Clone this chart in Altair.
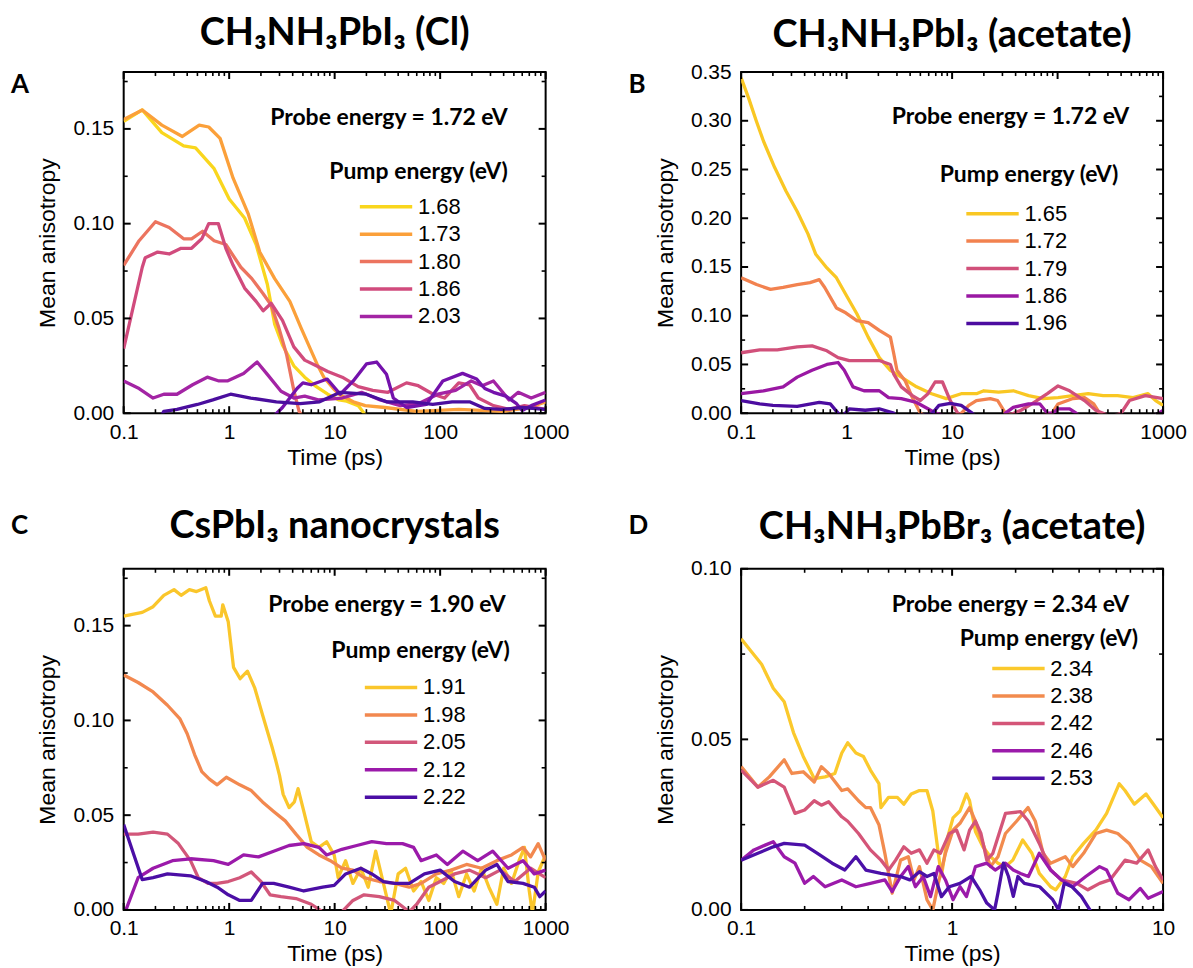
import altair as alt
import pandas as pd

# ---------------------------------------------------------------- data
# Panel A: CH3NH3PbI3 (Cl), probe 1.72 eV  -- (time ps, mean anisotropy)
A_NAMES = ["1.68", "1.73", "1.80", "1.86", "2.03", "extra-1", "extra-2"]
A_LEGEND = ["1.68", "1.73", "1.80", "1.86", "2.03"]
A_COLORS = ["#F9D61D", "#FBA03A", "#EC745F", "#D14B7D", "#A324A4", "#7412AC", "#4A0E9E"]
A_168 = [(0.1, 0.154), (0.15, 0.160), (0.23, 0.148), (0.37, 0.141), (0.48, 0.140), (0.72, 0.129),
         (1.0, 0.113), (1.4, 0.103), (1.8, 0.089), (2.3, 0.068), (2.7, 0.047), (3.2, 0.036),
         (4.1, 0.025), (5.2, 0.019), (6.7, 0.014), (8.6, 0.010), (11, 0.007), (13, 0.0063),
         (16.7, 0.004), (19, 0.0), (22, -0.004), (40, -0.006), (100, -0.005), (300, -0.004), (1000, -0.003)]
A_173 = [(0.1, 0.155), (0.15, 0.160), (0.23, 0.152), (0.36, 0.146), (0.52, 0.152), (0.64, 0.151),
         (0.82, 0.145), (1.09, 0.124), (1.52, 0.105), (1.95, 0.085), (2.7, 0.071), (3.76, 0.059),
         (4.8, 0.045), (6.2, 0.031), (6.8, 0.026), (7.9, 0.019), (9.7, 0.013), (11, 0.010), (15, 0.006),
         (19.5, 0.004), (30, 0.003), (60, 0.001), (150, 0.002), (400, 0.001), (700, 0.003), (1000, 0.006)]
A_180 = [(0.1, 0.078), (0.14, 0.091), (0.2, 0.101), (0.27, 0.098), (0.37, 0.092), (0.44, 0.092),
         (0.56, 0.096), (0.72, 0.091), (0.93, 0.089), (1.29, 0.077), (1.64, 0.071), (2.1, 0.063),
         (2.5, 0.057), (2.96, 0.045), (3.5, 0.031), (4.1, 0.012), (4.6, 0.001), (5.5, -0.006),
         (10, -0.006), (100, -0.006), (1000, -0.006)]
A_186 = [(0.1, 0.034), (0.15, 0.077), (0.16, 0.082), (0.21, 0.085), (0.27, 0.084), (0.35, 0.087),
         (0.44, 0.087), (0.55, 0.092), (0.64, 0.100), (0.79, 0.100), (0.93, 0.087), (1.09, 0.078),
         (1.4, 0.066), (1.8, 0.059), (2.1, 0.054), (2.5, 0.058), (3.2, 0.049), (4.1, 0.035),
         (5.2, 0.028), (6.7, 0.025), (8.6, 0.022), (11.8, 0.019), (16.7, 0.014), (23, 0.012),
         (32, 0.011), (48, 0.016), (62, 0.0145), (86, 0.010), (110, 0.008), (150, 0.016),
         (190, 0.015), (230, 0.008), (320, 0.004), (450, 0.002), (630, 0.004), (1000, 0.002)]
A_203 = [(0.1, 0.017), (0.14, 0.013), (0.19, 0.008), (0.24, 0.010), (0.32, 0.010), (0.45, 0.015),
         (0.62, 0.019), (0.8, 0.017), (0.96, 0.017), (1.37, 0.021), (1.84, 0.027), (2.3, 0.0205),
         (3.1, 0.0116), (4.1, 0.008), (5.2, 0.009), (7, 0.007), (11.8, 0.008), (18, 0.011),
         (27, 0.007), (42, 0.004), (62, 0.005), (95, 0.010), (140, 0.012), (197, 0.017),
         (250, 0.0145), (320, 0.017), (450, 0.007), (550, 0.011), (730, 0.008), (1000, 0.011)]
A_X1 = [(2.6, -0.002), (3.2, 0.003), (4.4, 0.013), (5.0, 0.016), (6.0, 0.015), (8.5, 0.018),
        (11.3, 0.010), (15, 0.017), (20, 0.026), (25, 0.027), (31, 0.0205), (36, 0.008),
        (48, 0.003), (74, 0.0046), (106, 0.017), (163, 0.021), (222, 0.018), (265, 0.013),
        (320, 0.011), (420, 0.009), (530, 0.005), (600, 0.0014), (730, 0.004), (1000, 0.007)]
A_X2 = [(0.22, -0.003), (0.24, 0.001), (0.32, 0.002), (0.5, 0.0046), (0.7, 0.007), (1.03, 0.010),
        (1.6, 0.008), (2.8, 0.006), (4.7, 0.005), (7.2, 0.006), (11.3, 0.011), (20, 0.010),
        (31, 0.006), (55, 0.006), (85, 0.0046), (130, 0.006), (190, 0.006), (265, 0.0025),
        (380, 0.002), (600, 0.003), (1000, 0.002)]

# Panel B: CH3NH3PbI3 (acetate), probe 1.72 eV
B_NAMES = ["1.65", "1.72", "1.79", "1.86", "1.96"]
B_COLORS = ["#F9C723", "#F2824F", "#D1507A", "#9A18A3", "#4C0CA0"]
B_165 = [(0.1, 0.344), (0.118, 0.323), (0.139, 0.300), (0.163, 0.279), (0.208, 0.252), (0.266, 0.228),
         (0.34, 0.207), (0.43, 0.184), (0.51, 0.163), (0.65, 0.149), (0.8, 0.139), (0.98, 0.122),
         (1.25, 0.102), (1.6, 0.078), (2.04, 0.057), (2.6, 0.044), (3.3, 0.037), (4.6, 0.027),
         (6.4, 0.020), (8.8, 0.015), (12.2, 0.020), (17, 0.020), (20, 0.023), (27.6, 0.0215),
         (38, 0.023), (53, 0.018), (73, 0.015), (101, 0.016), (140, 0.018), (195, 0.020),
         (270, 0.018), (370, 0.018), (520, 0.016), (720, 0.020), (850, 0.013), (1000, 0.008)]
B_172 = [(0.1, 0.139), (0.14, 0.132), (0.19, 0.127), (0.25, 0.129), (0.34, 0.132), (0.45, 0.134),
         (0.55, 0.137), (0.62, 0.129), (0.8, 0.108), (0.98, 0.103), (1.25, 0.095), (1.6, 0.093),
         (2.04, 0.085), (2.6, 0.078), (2.8, 0.061), (3.0, 0.044), (3.6, 0.033), (4.2, 0.016),
         (5.0, 0.0), (6, -0.005), (12, -0.001), (14.4, 0.008), (17, 0.013), (23, 0.015), (27, 0.013),
         (32, 0.0), (50, -0.005), (87, -0.001), (101, 0.0095), (140, 0.015), (180, 0.016),
         (220, 0.0095), (250, 0.0), (300, -0.006), (1000, -0.006)]
B_179 = [(0.1, 0.062), (0.15, 0.065), (0.22, 0.065), (0.34, 0.068), (0.47, 0.069), (0.65, 0.064),
         (0.83, 0.057), (1.06, 0.054), (1.46, 0.054), (2.04, 0.054), (2.6, 0.050), (2.8, 0.040),
         (3.3, 0.027), (4.2, 0.018), (5.0, 0.013), (5.9, 0.020), (6.9, 0.032), (8.1, 0.032),
         (9.6, 0.013), (11.3, 0.0), (14, -0.005), (30, -0.005), (45, 0.003), (57, 0.0095),
         (80, 0.020), (101, 0.028), (130, 0.023), (180, 0.013), (230, 0.003), (270, 0.0),
         (320, -0.004), (400, 0.0), (480, 0.013), (680, 0.018), (1000, 0.015)]
B_186 = [(0.1, 0.020), (0.163, 0.023), (0.25, 0.027), (0.34, 0.037), (0.47, 0.044), (0.65, 0.050),
         (0.83, 0.052), (0.95, 0.044), (1.15, 0.027), (1.46, 0.023), (2.04, 0.023), (2.5, 0.016),
         (3.3, 0.015), (4.6, 0.011), (5.9, 0.0045), (7, 0.0), (10, -0.005), (30, -0.005),
         (32, 0.0), (38, 0.006), (53, 0.0095), (68, 0.0095), (80, 0.0), (90, 0.0), (101, 0.0045),
         (130, 0.0045), (150, 0.0), (170, -0.005), (800, -0.004), (1000, 0.003)]
B_196 = [(0.1, 0.013), (0.15, 0.0095), (0.2, 0.008), (0.34, 0.007), (0.55, 0.011), (0.7, 0.0095),
         (0.83, 0.0), (0.9, -0.004), (1.06, 0.0045), (1.5, 0.003), (2.04, 0.0045), (2.8, 0.0),
         (3.0, -0.004), (6.4, -0.001), (7.5, 0.008), (9.6, 0.010), (12.2, 0.008), (15.5, 0.0),
         (17, -0.004), (1000, -0.004)]

# Panel C: CsPbI3 nanocrystals, probe 1.90 eV
C_NAMES = ["1.91", "1.98", "2.05", "2.12", "2.22"]
C_COLORS = ["#FAC62B", "#F2884F", "#D2577A", "#9B1AAA", "#4B0EA5"]
C_191 = [(0.1, 0.155), (0.15, 0.157), (0.19, 0.160), (0.24, 0.166), (0.30, 0.169), (0.35, 0.166),
         (0.42, 0.169), (0.49, 0.168), (0.60, 0.170), (0.65, 0.163), (0.74, 0.155), (0.84, 0.155),
         (0.87, 0.161), (0.98, 0.152), (1.1, 0.128), (1.27, 0.122), (1.49, 0.126), (1.75, 0.117),
         (2.07, 0.103), (2.34, 0.093), (2.55, 0.086), (2.76, 0.079), (3.0, 0.071), (3.25, 0.061),
         (3.7, 0.054), (4.15, 0.057), (4.5, 0.064), (5.1, 0.052), (6.0, 0.036), (7.1, 0.033),
         (8.4, 0.036), (9.9, 0.029), (10.8, 0.017), (12.7, 0.026), (14.9, 0.014), (17.7, 0.022),
         (20.8, 0.012), (24.5, 0.031), (29, 0.014), (34, -0.002), (40, 0.019), (47, 0.022),
         (56, 0.010), (66, 0.015), (78, 0.005), (92, 0.017), (108, 0.014), (127, 0.021),
         (150, 0.007), (178, 0.019), (210, 0.010), (247, 0.022), (290, 0.012), (345, 0.003),
         (400, 0.022), (475, 0.014), (560, 0.026), (630, 0.033), (700, 0.010), (750, -0.002),
         (850, 0.020), (1000, 0.029)]
C_198 = [(0.1, 0.124), (0.137, 0.120), (0.19, 0.115), (0.26, 0.108), (0.34, 0.101), (0.40, 0.093),
         (0.47, 0.082), (0.55, 0.073), (0.65, 0.069), (0.77, 0.066), (0.94, 0.070), (1.26, 0.066),
         (1.62, 0.063), (2.07, 0.057), (2.64, 0.052), (3.4, 0.047), (4.3, 0.040), (5.5, 0.033),
         (7.1, 0.029), (9.1, 0.026), (11.7, 0.022), (14.9, 0.021), (19, 0.017), (26.5, 0.015),
         (37, 0.014), (51, 0.012), (66, 0.014), (92, 0.019), (127, 0.021), (178, 0.024),
         (247, 0.022), (345, 0.026), (475, 0.029), (610, 0.033), (720, 0.028), (850, 0.035),
         (1000, 0.026)]
C_205 = [(0.1, 0.040), (0.137, 0.040), (0.19, 0.041), (0.26, 0.040), (0.33, 0.035), (0.43, 0.026),
         (0.51, 0.017), (0.63, 0.014), (0.77, 0.014), (0.98, 0.015), (1.26, 0.017), (1.62, 0.020),
         (2.0, 0.015), (2.44, 0.008), (3.1, 0.007), (4.3, 0.006), (6.0, 0.003), (7.7, -0.001),
         (11.7, -0.001), (14.9, 0.005), (19, 0.008), (26.5, 0.007), (37, 0.005), (51, -0.001),
         (60, 0.003), (78, 0.012), (100, 0.015), (137, 0.019), (190, 0.021), (270, 0.017),
         (370, 0.021), (510, 0.015), (720, 0.022), (1000, 0.017)]
C_212 = [(0.1, -0.004), (0.105, 0.0), (0.137, 0.017), (0.19, 0.022), (0.29, 0.026), (0.43, 0.027),
         (0.71, 0.026), (0.98, 0.024), (1.37, 0.029), (1.9, 0.028), (2.64, 0.031), (3.7, 0.034),
         (5.1, 0.035), (7.1, 0.033), (8.4, 0.029), (11.7, 0.032), (16.2, 0.034), (22.5, 0.036),
         (31, 0.035), (44, 0.035), (56, 0.033), (66, 0.026), (92, 0.029), (117, 0.024),
         (164, 0.031), (227, 0.026), (315, 0.031), (440, 0.022), (610, 0.026), (780, 0.019),
         (1000, 0.021)]
C_222 = [(0.1, 0.045), (0.125, 0.029), (0.15, 0.016), (0.19, 0.017), (0.26, 0.019), (0.43, 0.018),
         (0.60, 0.015), (0.77, 0.012), (0.98, 0.008), (1.26, 0.005), (1.62, 0.005), (2.07, 0.014),
         (2.64, 0.014), (3.7, 0.012), (5.1, 0.010), (7.7, 0.012), (9.9, 0.013), (12.7, 0.019),
         (17.7, 0.022), (22.5, 0.019), (29, 0.015), (37, 0.014), (51, 0.014), (71, 0.019),
         (100, 0.021), (137, 0.015), (190, 0.012), (270, 0.021), (345, 0.024), (440, 0.015),
         (610, 0.014), (780, 0.012), (880, 0.007), (1000, 0.010)]

# Panel D: CH3NH3PbBr3 (acetate), probe 2.34 eV
D_NAMES = ["2.34", "2.38", "2.42", "2.46", "2.53"]
D_COLORS = ["#FBC92C", "#F28B4E", "#D45578", "#9B1AAA", "#4B10A8"]
D_234 = [(0.1, 0.0795), (0.111, 0.076), (0.125, 0.072), (0.142, 0.065), (0.16, 0.061), (0.177, 0.052),
         (0.197, 0.045), (0.222, 0.0385), (0.25, 0.039), (0.278, 0.040), (0.30, 0.046), (0.32, 0.049),
         (0.35, 0.046), (0.38, 0.045), (0.41, 0.041), (0.45, 0.037), (0.46, 0.030), (0.50, 0.033),
         (0.55, 0.033), (0.59, 0.031), (0.64, 0.034), (0.70, 0.035), (0.76, 0.035), (0.81, 0.029),
         (0.86, 0.0166), (0.89, 0.010), (0.95, 0.021), (1.01, 0.027), (1.09, 0.029), (1.17, 0.034),
         (1.21, 0.032), (1.29, 0.023), (1.40, 0.0185), (1.52, 0.0156), (1.65, 0.0137), (1.79, 0.0127),
         (1.94, 0.0146), (2.16, 0.0205), (2.39, 0.0166), (2.59, 0.0107), (2.93, 0.0068), (3.1, 0.0059),
         (3.44, 0.0098), (3.73, 0.0156), (4.2, 0.0195), (4.8, 0.0234), (5.4, 0.0283), (6.2, 0.037),
         (6.6, 0.035), (7.3, 0.031), (8.3, 0.034), (9.0, 0.031), (10, 0.027)]
D_238 = [(0.1, 0.042), (0.12, 0.036), (0.136, 0.039), (0.16, 0.044), (0.174, 0.040), (0.197, 0.0405),
         (0.222, 0.0375), (0.24, 0.042), (0.26, 0.040), (0.30, 0.035), (0.32, 0.0355), (0.36, 0.032),
         (0.39, 0.030), (0.41, 0.030), (0.45, 0.025), (0.48, 0.0166), (0.52, 0.0049), (0.57, 0.0146),
         (0.62, 0.0156), (0.66, 0.0088), (0.70, 0.0127), (0.76, 0.003), (0.81, 0.0), (0.86, 0.0078),
         (0.93, 0.0166), (1.01, 0.0234), (1.09, 0.0254), (1.21, 0.030), (1.29, 0.026), (1.40, 0.0195),
         (1.52, 0.0127), (1.65, 0.0156), (1.79, 0.0224), (2.02, 0.026), (2.29, 0.030), (2.48, 0.026),
         (2.7, 0.0166), (2.93, 0.0137), (3.44, 0.0156), (3.73, 0.0127), (4.2, 0.0166), (4.8, 0.0224),
         (5.4, 0.0234), (6.1, 0.0224), (6.9, 0.0195), (7.8, 0.0146), (8.8, 0.0127), (10, 0.0078)]
D_242 = [(0.1, 0.041), (0.12, 0.036), (0.142, 0.038), (0.16, 0.036), (0.18, 0.0283), (0.2, 0.0293),
         (0.222, 0.032), (0.24, 0.0307), (0.26, 0.0317), (0.30, 0.0273), (0.32, 0.026), (0.36, 0.0224),
         (0.41, 0.0176), (0.46, 0.0146), (0.50, 0.0117), (0.54, 0.0146), (0.59, 0.0185), (0.64, 0.0166),
         (0.70, 0.0176), (0.76, 0.0137), (0.82, 0.0176), (0.88, 0.0166), (0.97, 0.0224), (1.05, 0.0234),
         (1.14, 0.0176), (1.21, 0.0234), (1.29, 0.026), (1.37, 0.0224), (1.46, 0.0146), (1.56, 0.0166),
         (1.79, 0.0283), (2.11, 0.0288), (2.3, 0.026), (2.59, 0.0195), (2.93, 0.0117), (3.3, 0.0088),
         (3.9, 0.0078), (4.4, 0.0059), (5.0, 0.0078), (5.6, 0.0088), (6.6, 0.0146), (7.5, 0.0137),
         (8.5, 0.0176), (9.2, 0.0127), (10, 0.0088)]
D_246 = [(0.1, 0.0146), (0.115, 0.0176), (0.13, 0.019), (0.142, 0.020), (0.16, 0.0156), (0.18, 0.0137),
         (0.2, 0.0078), (0.22, 0.0098), (0.25, 0.0068), (0.30, 0.0088), (0.35, 0.0068), (0.41, 0.0078),
         (0.48, 0.0088), (0.52, 0.0054), (0.57, 0.0098), (0.62, 0.0127), (0.67, 0.0068), (0.73, 0.0098),
         (0.79, 0.0039), (0.86, 0.0127), (0.93, 0.0088), (1.01, 0.003), (1.09, 0.0068), (1.17, 0.0039),
         (1.29, 0.0127), (1.46, 0.0137), (1.6, 0.0117), (1.79, 0.0137), (1.95, 0.0117), (2.11, 0.0107),
         (2.3, 0.0098), (2.59, 0.0166), (2.93, 0.0117), (3.3, 0.0088), (3.73, 0.0068), (4.3, 0.0098),
         (5.0, 0.0127), (5.4, 0.0117), (6.1, 0.0049), (6.9, 0.003), (7.8, 0.0063), (8.5, 0.0034),
         (9.6, 0.0049), (10, 0.0054)]
D_253 = [(0.1, 0.0146), (0.12, 0.0166), (0.142, 0.0185), (0.16, 0.0195), (0.2, 0.019), (0.23, 0.0166),
         (0.27, 0.0137), (0.31, 0.0117), (0.35, 0.0156), (0.39, 0.0117), (0.46, 0.0107), (0.57, 0.0098),
         (0.63, 0.0088), (0.70, 0.0112), (0.76, 0.0098), (0.82, 0.0107), (0.89, 0.0039), (0.97, 0.0068),
         (1.09, 0.0078), (1.23, 0.0098), (1.35, 0.0059), (1.46, 0.002), (1.59, 0.0), (1.65, 0.005),
         (1.75, 0.0137), (1.85, 0.0098), (1.95, 0.004), (2.05, 0.0098), (2.2, 0.0078), (2.6, 0.0068),
         (3.0, 0.003), (3.2, 0.0), (3.4, 0.0078), (3.7, 0.0068), (4.1, 0.004), (4.5, 0.0), (4.6, -0.004)]

# ---------------------------------------------------------------- helpers
W, H = 423, 342
SANS = "Liberation Sans"
BOLD = "Lato"


def series_df(names, series):
    rows = []
    for name, pts in zip(names, series):
        for i, (t, r) in enumerate(pts):
            rows.append({"series": name, "t": t, "r": r, "i": i})
    return pd.DataFrame(rows)


def log_minor(xmax):
    vals = []
    for k in range(-1, 3):
        for m in range(2, 10):
            v = round(m * 10 ** k, 6)
            if v < xmax:
                vals.append(v)
    return vals


def text_layer(text, x, y, size, align="right", font=BOLD, weight="bold"):
    return alt.Chart(pd.DataFrame({"k": [0]})).mark_text(
        align=align, baseline="alphabetic", font=font, fontWeight=weight,
        fontSize=size, color="black"
    ).encode(x=alt.value(x), y=alt.value(y), text=alt.value(text))


def panel(names, series, colors, legend_vals, xmax, ymax, title, title_off,
          letter, letter_y, probe, probe_x, probe_y, pump_x, pump_y, leg_x, leg_y):
    df = series_df(names, series)
    xs = alt.Scale(type="log", domain=[0.1, xmax], nice=False)
    ys = alt.Scale(type="linear", domain=[0, ymax], nice=False, zero=False)
    xmajor = [v for v in [0.1, 1, 10, 100, 1000] if v <= xmax]
    xminor = log_minor(xmax)
    ymajor, yminor = [], []
    k = 0
    while 0.05 * k <= ymax + 1e-9:
        ymajor.append(round(0.05 * k, 3))
        k += 1
    k = 0
    while 0.025 + 0.05 * k <= ymax + 1e-9:
        yminor.append(round(0.025 + 0.05 * k, 4))
        k += 1

    xaxis = alt.Axis(orient="bottom", values=xmajor, format="~g", ticks=False, tickSize=0,
                     domain=False, grid=False, labelPadding=8, labelFlush=False,
                     labelOverlap=False, title="Time (ps)", titlePadding=4)
    yaxis = alt.Axis(orient="left", values=ymajor, format=".2f", ticks=False, tickSize=0,
                     domain=False, grid=False, labelPadding=10, labelFlush=False,
                     labelOverlap=False, title="Mean anisotropy", titlePadding=13)

    lines = alt.Chart(df).mark_line(strokeWidth=3.3, clip=True, strokeJoin="round").encode(
        x=alt.X("t:Q", scale=xs, axis=xaxis),
        y=alt.Y("r:Q", scale=ys, axis=yaxis),
        color=alt.Color("series:N", scale=alt.Scale(domain=names, range=colors),
                        legend=alt.Legend(
                            orient="none", legendX=leg_x, legendY=leg_y, title=None,
                            values=legend_vals, symbolType="stroke", symbolSize=2756,
                            symbolStrokeWidth=3.5, clipHeight=22, rowPadding=5.5,
                            labelFont=SANS, labelFontSize=22, labelColor="black",
                            labelOffset=4, padding=0, symbolOffset=0)),
        order=alt.Order("i:Q"),
    )

    # inward tick marks on all four sides, placed through the panel's own scales
    def xticks(vals, size, width):
        d = pd.DataFrame({"t": vals})
        base = alt.Chart(d).mark_rule(color="black", strokeWidth=width)
        bottom = base.encode(x=alt.X("t:Q", scale=xs, axis=xaxis),
                             y=alt.value(H), y2=alt.value(H - size))
        top = base.encode(x=alt.X("t:Q", scale=xs, axis=xaxis),
                          y=alt.value(0), y2=alt.value(size))
        return [bottom, top]

    def yticks(vals, size, width):
        d = pd.DataFrame({"r": vals})
        base = alt.Chart(d).mark_rule(color="black", strokeWidth=width)
        left = base.encode(y=alt.Y("r:Q", scale=ys, axis=yaxis),
                           x=alt.value(0), x2=alt.value(size))
        right = base.encode(y=alt.Y("r:Q", scale=ys, axis=yaxis),
                            x=alt.value(W), x2=alt.value(W - size))
        return [left, right]

    layers = [lines]
    layers += xticks(xmajor, 7, 2) + xticks(xminor, 4, 1.6)
    layers += yticks(ymajor, 7, 2) + yticks(yminor, 4, 1.6)
    layers += [
        text_layer(title, W / 2, -title_off, 38, align="center"),
        text_layer(probe, probe_x, probe_y, 23),
        text_layer("Pump energy (eV)", pump_x, pump_y, 23),
        text_layer(letter, -113, letter_y, 26, align="left"),
    ]
    return alt.layer(*layers).properties(width=W, height=H)


pA = panel(A_NAMES, [A_168, A_173, A_180, A_186, A_203, A_X1, A_X2], A_COLORS, A_LEGEND,
           1000, 0.18, "CH₃NH₃PbI₃ (Cl)", 27, "A", 21, "Probe energy = 1.72 eV",
           385, 53, 385, 107, 235, 124)
pB = panel(B_NAMES, [B_165, B_172, B_179, B_186, B_196], B_COLORS, B_NAMES,
           1000, 0.35, "CH₃NH₃PbI₃ (acetate)", 25, "B", 21, "Probe energy = 1.72 eV",
           389, 52, 378, 110, 224, 131)
pC = panel(C_NAMES, [C_191, C_198, C_205, C_212, C_222], C_COLORS, C_NAMES,
           1000, 0.18, "CsPbI₃ nanocrystals", 31, "C", -35, "Probe energy = 1.90 eV",
           383, 43, 387, 89, 240, 108)
pD = panel(D_NAMES, [D_234, D_238, D_242, D_246, D_253], D_COLORS, D_NAMES,
           10, 0.10, "CH₃NH₃PbBr₃ (acetate)", 30, "D", -35, "Probe energy = 2.34 eV",
           389, 43, 398, 77, 250, 89)

chart = alt.concat(
    pA, pB, pC, pD, columns=2, spacing={"row": 156, "column": 196}, bounds="flush"
).resolve_scale(
    color="independent", x="independent", y="independent"
).properties(
    padding={"left": 10, "top": 13, "right": 5, "bottom": 5}
).configure_view(
    stroke="black", strokeWidth=2
).configure_axis(
    labelFont=SANS, labelFontSize=21, labelColor="black",
    titleFont=SANS, titleFontSize=23, titleFontWeight="normal", titleColor="black",
)

chart.save("out.html", embed_options={"renderer": "svg", "actions": False})
